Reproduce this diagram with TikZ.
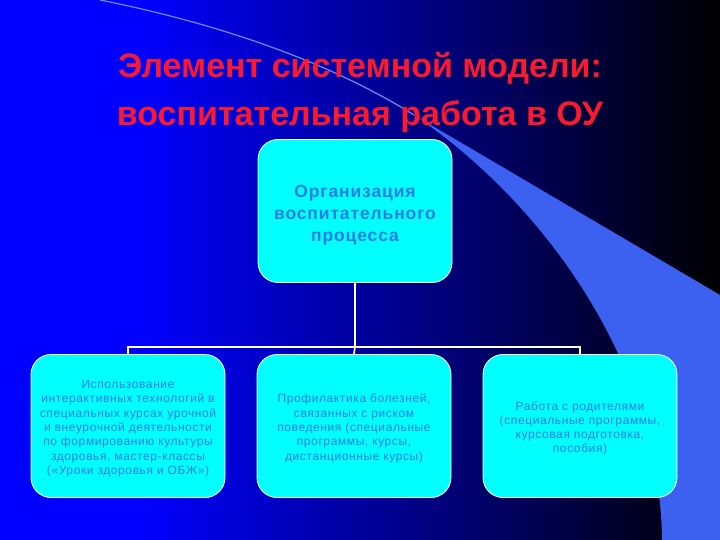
\documentclass[tikz,border=0pt]{standalone}
\usepackage{fontspec}
\setmainfont{Liberation Sans}
\newfontfamily\wideFont[LetterSpace=5]{Liberation Sans}
\definecolor{bgBlue}{RGB}{0,0,255}
\definecolor{fanBlue}{RGB}{60,96,240}
\definecolor{arcBlue}{RGB}{110,140,255}
\definecolor{boxCyan}{RGB}{0,255,255}
\definecolor{boxText}{RGB}{40,125,230}
\definecolor{titleRed}{RGB}{250,25,45}

\begin{document}
\begin{tikzpicture}
[x=1pt,y=-1pt,
  lineDecorate/.style={draw=white,line width=1.6pt},
  boxDecorate/.style={shape=rectangle,rounded corners=20pt,draw=white,line width=0.8pt,
    fill=boxCyan,text=boxText,minimum width=194pt,minimum height=143pt,align=center,inner sep=2pt},
  titleDecorate/.style={text=titleRed,font=\fontsize{34}{40}\selectfont\bfseries,anchor=base}]
%% background
\useasboundingbox (0,0) rectangle (720,540);
\fill[bgBlue] (0,0) rectangle (141,540);
\shade[left color=bgBlue,right color=black] (140,0) rectangle (720,540);
\fill[fanBlue] (414,115) -- (720,295) -- (720,540) -- (662,540)
  .. controls (660,360) and (540,200) .. (414,115);
\draw[arcBlue,line width=1.2pt] (100,0) .. controls (250,30) and (350,75) .. (414,115);
%% title
\node (title1) at (360,78) [titleDecorate] {Элемент системной модели:};
\node (title2) at (360,126) [titleDecorate] {воспитательная работа в ОУ};
%% nodes
\node (org) at (355,211) [boxDecorate,font=\wideFont\fontsize{17.5}{22}\selectfont\bfseries]
  {\rule{0pt}{20.5pt}Организация\\воспитательного\\процесса};
\foreach \nodename/\x/\txt in {
  use/128/{Использование\\интерактивных технологий в\\специальных курсах урочной\\и внеурочной деятельности\\по формированию культуры\\здоровья, мастер-классы\\(«Уроки здоровья и ОБЖ»)},
  prof/354/{Профилактика болезней,\\связанных с риском\\поведения (специальные\\программы, курсы,\\дистанционные курсы)},
  work/580/{Работа с родителями\\(специальные программы,\\курсовая подготовка,\\пособия)}}
{
  \node (\nodename) at (\x,426) [boxDecorate,font=\wideFont\fontsize{12}{14.3}\selectfont]
    {\rule{0pt}{13.5pt}\txt};
}
%% lines
\path (org.south) ++(0,64) coordinate (bus);
\draw[lineDecorate] (org.south) -- (bus);
\draw[lineDecorate] (use.north) |- (bus) -| (work.north);
\draw[lineDecorate] (bus) -- (prof.north);
\end{tikzpicture}
\end{document}
